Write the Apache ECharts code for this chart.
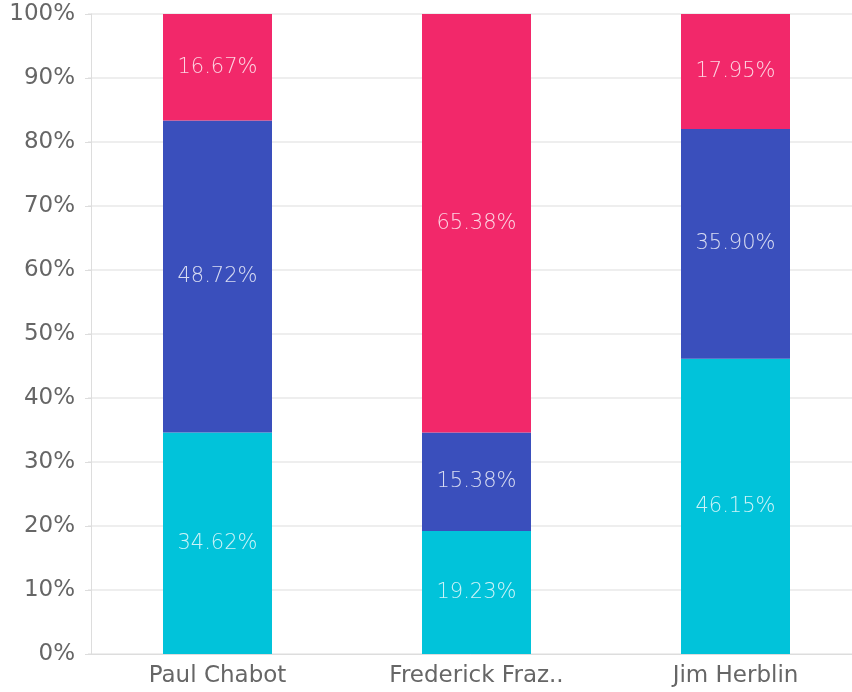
<!DOCTYPE html>
<html>
<head>
<meta charset="utf-8">
<script src="https://cdn.jsdelivr.net/npm/echarts@6/dist/echarts.min.js"></script>
<style>
  html, body { margin: 0; padding: 0; background: #fff; }
  #chart { width: 852px; height: 692px; }
</style>
</head>
<body>
<div id="chart"></div>
<script>
// categories and stacked shares (percent)
const categories = ['Paul Chabot', 'Frederick Fraz..', 'Jim Herblin'];
const cyanValues = [34.62, 19.23, 46.15];
const blueValues = [48.72, 15.38, 35.90];
const pinkValues = [16.67, 65.38, 17.95];
const yTicks = [0, 10, 20, 30, 40, 50, 60, 70, 80, 90, 100];

const font = 'DejaVu Sans';

function makeSeries(name, data, color) {
  return {
    name: name,
    type: 'bar',
    stack: 'total',
    data: data,
    barWidth: 109,
    itemStyle: { color: color },
    label: {
      show: true,
      position: 'inside',
      color: 'rgba(255,255,255,0.8)',
      fontFamily: font,
      fontSize: 21,
      fontWeight: 200,
      padding: [3, 0, 0, 0],
      formatter: (p) => p.value.toFixed(2) + '%',
    },
  };
}

const chart = echarts.init(document.getElementById('chart'));
chart.setOption({
  animation: false,
  // plot area runs a bit past the right edge, y axis nudged right
  grid: {
    left: 88,
    width: 777,
    top: 14,
    bottom: 38,
    containLabel: false,
    outerBoundsMode: 'none',
  },
  xAxis: {
    type: 'category',
    data: categories,
    axisLine: { lineStyle: { color: '#dddddd' } },
    axisTick: { alignWithLabel: true, length: 5, lineStyle: { color: '#dddddd' } },
    axisLabel: { color: '#666666', fontFamily: font, fontSize: 23, margin: 11 },
  },
  yAxis: {
    type: 'value',
    offset: -3,
    min: yTicks[0],
    max: yTicks[yTicks.length - 1],
    interval: 10,
    axisLine: { show: true, lineStyle: { color: '#dddddd' } },
    axisTick: { show: true, length: 6, lineStyle: { color: '#dddddd' } },
    splitLine: { lineStyle: { color: '#eeeeee', width: 2 } },
    axisLabel: {
      color: '#666666',
      fontFamily: font,
      fontSize: 23,
      margin: 16,
      padding: [4, 0, 0, 0],
      formatter: '{value}%',
    },
  },
  series: [
    makeSeries('cyan', cyanValues, '#01c3da'),
    makeSeries('blue', blueValues, '#3a4fbc'),
    makeSeries('pink', pinkValues, '#f2286a'),
  ],
});
</script>
</body>
</html>
